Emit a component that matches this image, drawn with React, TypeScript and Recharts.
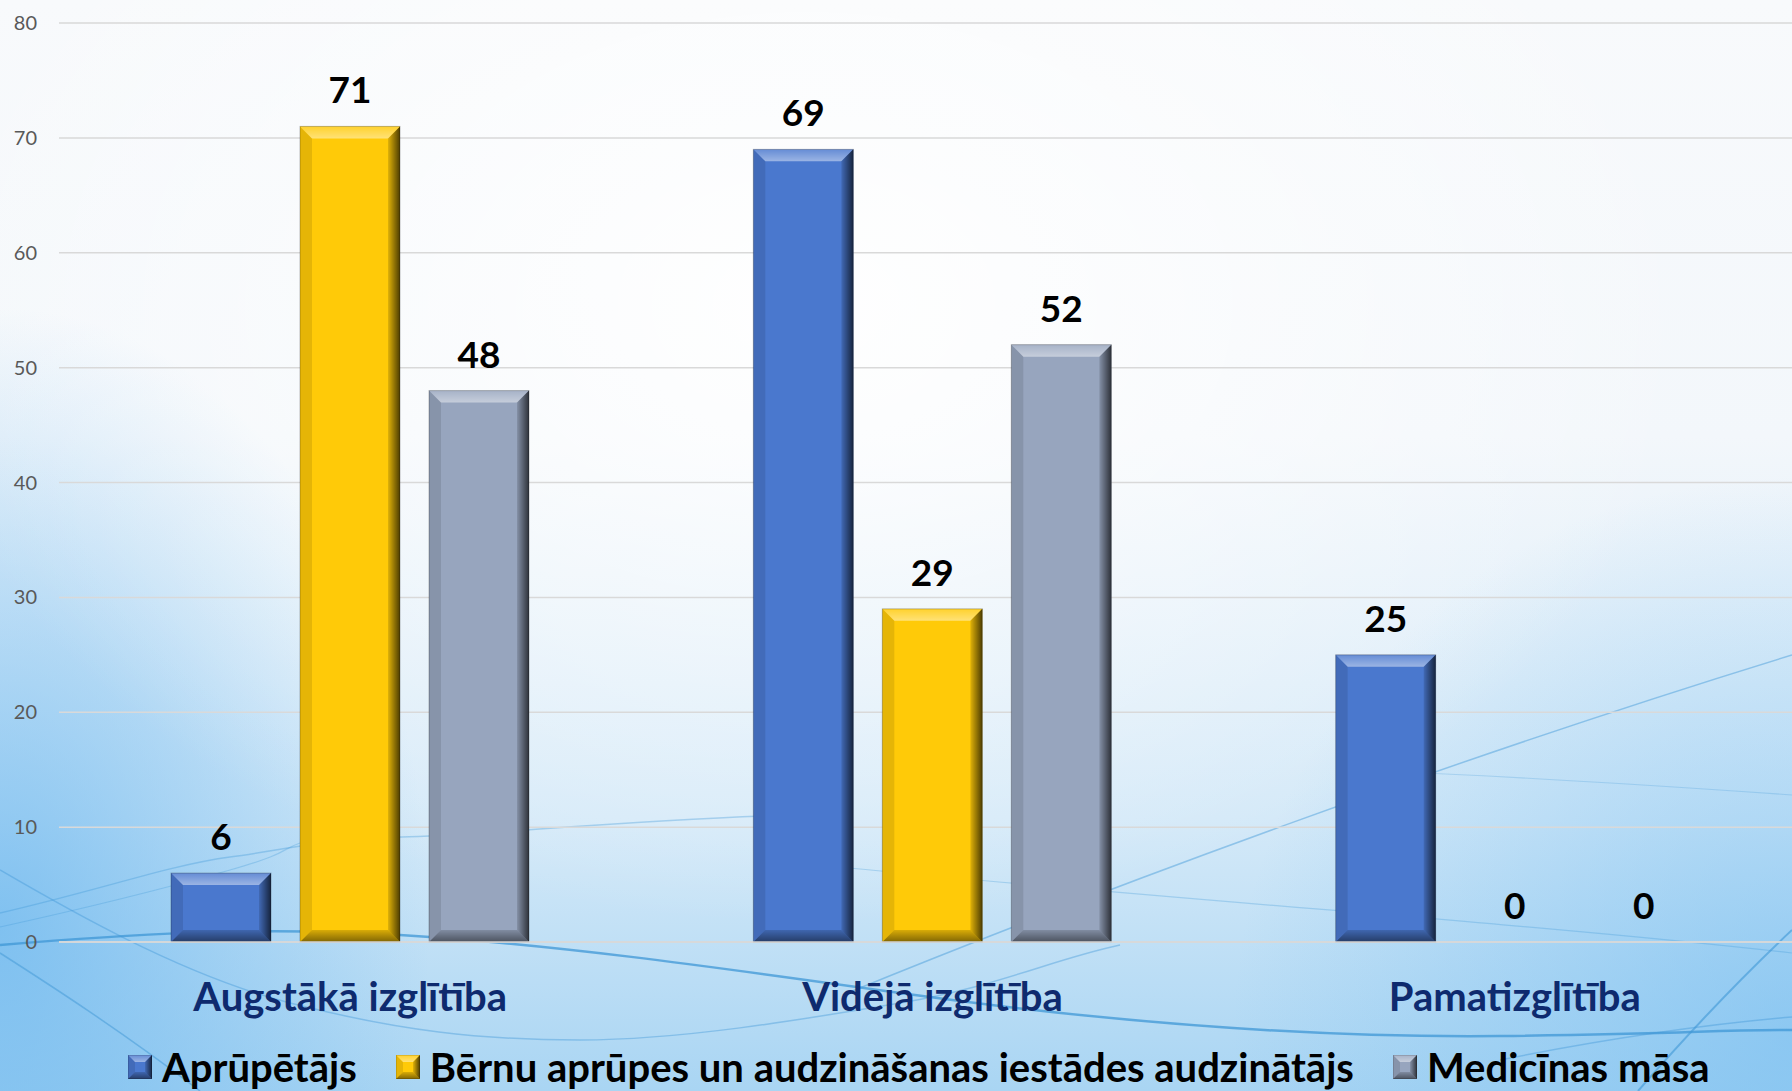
import React from 'react';
import { BarChart, Bar, XAxis, YAxis, CartesianGrid, LabelList, Legend } from 'recharts';

const categories = ['Augstākā izglītība', 'Vidējā izglītība', 'Pamatizglītība'];
const aprupetajs = [6, 69, 25];
const audzinatajs = [71, 29, 0];
const medmasa = [48, 52, 0];
const seriesNames = ['Aprūpētājs', 'Bērnu aprūpes un audzināšanas iestādes audzinātājs', 'Medicīnas māsa'];
const seriesColors = ['#4A78CE', '#FFCA08', '#97A5BE'];
const yTicks = [0, 10, 20, 30, 40, 50, 60, 70, 80];

const data = categories.map((name, i) => ({
  name,
  a: aprupetajs[i],
  b: audzinatajs[i],
  c: medmasa[i],
}));

const FONT = 'Lato, "Open Sans", sans-serif';

// beveled rectangle, same look as the office "bevel" bar effect
const bevel = (x: number, y: number, w: number, h: number, b: number, fill: string, id: string) => (
  <g>
    <defs>
      <linearGradient id={`${id}-r`} x1="0" y1="0" x2="1" y2="0">
        <stop offset="0%" stopColor="#000" stopOpacity={0.12} />
        <stop offset="100%" stopColor="#000" stopOpacity={0.7} />
      </linearGradient>
      <linearGradient id={`${id}-t`} x1="0" y1="0" x2="0" y2="1">
        <stop offset="0%" stopColor="#fff" stopOpacity={0.15} />
        <stop offset="100%" stopColor="#fff" stopOpacity={0.45} />
      </linearGradient>
      <linearGradient id={`${id}-b`} x1="0" y1="0" x2="0" y2="1">
        <stop offset="0%" stopColor="#000" stopOpacity={0.15} />
        <stop offset="100%" stopColor="#000" stopOpacity={0.5} />
      </linearGradient>
    </defs>
    <rect x={x} y={y} width={w} height={h} fill={fill} />
    <polygon points={`${x},${y} ${x + b},${y + b} ${x + b},${y + h - b} ${x},${y + h}`} fill="#000" fillOpacity={0.1} />
    <polygon points={`${x},${y} ${x + w},${y} ${x + w - b},${y + b} ${x + b},${y + b}`} fill={`url(#${id}-t)`} />
    <polygon points={`${x + w},${y} ${x + w},${y + h} ${x + w - b},${y + h - b} ${x + w - b},${y + b}`} fill={`url(#${id}-r)`} />
    <polygon points={`${x},${y + h} ${x + w},${y + h} ${x + w - b},${y + h - b} ${x + b},${y + h - b}`} fill={`url(#${id}-b)`} />
    <rect x={x} y={y} width={w} height={h} fill="none" stroke="#000" strokeOpacity={0.25} strokeWidth={1} />
  </g>
);

const BevelBar = (props: any) => {
  const { x, y, width, height, fill, index, dataKey } = props;
  if (!height || height <= 0) return null;
  const b = Math.min(12, height / 2);
  return bevel(x, y, width, height, b, fill, `bv-${dataKey}-${index}`);
};

const CategoryTick = ({ x, y, payload }: any) => (
  <text x={x} y={y + 61} textAnchor="middle" fontFamily={FONT} fontSize={40} fontWeight={700} fill="#0E2A6E">
    {payload.value}
  </text>
);

const LegendContent = () => (
  <div style={{ display: 'flex', alignItems: 'center', paddingLeft: 128, height: 48, boxSizing: 'border-box', fontFamily: FONT, fontWeight: 700, fontSize: 40, color: '#000', whiteSpace: 'nowrap' }}>
    {seriesNames.map((n, i) => (
      <div key={n} style={{ display: 'flex', alignItems: 'center', marginRight: 39 }}>
        <svg width={24} height={24} style={{ marginRight: 10 }}>
          {bevel(0, 0, 24, 24, 7, seriesColors[i], `lg-${i}`)}
        </svg>
        <span>{n}</span>
      </div>
    ))}
  </div>
);

const bg = [
  'radial-gradient(ellipse 900px 620px at 45% 28%, rgba(255,255,255,0.95), rgba(255,255,255,0) 100%)',
  'radial-gradient(ellipse 430px 620px at 0% 85%, rgba(105,182,238,0.75), rgba(105,182,238,0) 100%)',
  'radial-gradient(ellipse 560px 560px at 100% 95%, rgba(115,188,240,0.6), rgba(115,188,240,0) 100%)',
  'linear-gradient(to bottom, #F8FAFC 0%, #F3F7FB 40%, #D4E9F8 75%, #A9D5F3 100%)',
].join(', ');

const Curves = () => (
  <svg width={1792} height={1091} style={{ position: 'absolute', left: 0, top: 0 }}>
    <g fill="none" stroke="#3F97D6">
      <path d="M0,945 C120,935 250,926 400,935 S700,965 900,993 S1300,1038 1500,1036 S1700,1030 1792,1030" strokeWidth={2.5} strokeOpacity={0.75} />
      <path d="M0,870 C60,905 180,975 290,1003 S480,1040 580,1040 S800,1020 900,1003 S1050,960 1120,945" strokeWidth={1.5} strokeOpacity={0.4} />
      <path d="M0,953 C50,985 120,1030 200,1091" strokeWidth={1.5} strokeOpacity={0.5} />
      <path d="M0,913 C100,890 170,865 230,857 S330,838 402,837 S650,818 800,815" strokeWidth={1.5} strokeOpacity={0.35} />
      <path d="M0,927 C100,905 170,887 230,870 S280,850 300,843" strokeWidth={1.2} strokeOpacity={0.3} />
      <path d="M850,992 C1100,890 1450,760 1792,655" strokeWidth={1.5} strokeOpacity={0.45} />
      <path d="M770,860 C1100,895 1500,920 1792,953" strokeWidth={1.2} strokeOpacity={0.3} />
      <path d="M1380,771 C1500,776 1650,785 1792,795" strokeWidth={1.2} strokeOpacity={0.25} />
      <path d="M1792,930 C1760,960 1700,1020 1638,1091" strokeWidth={2} strokeOpacity={0.6} />
      <path d="M1500,1060 C1600,1040 1700,1025 1792,1017" strokeWidth={1.5} strokeOpacity={0.4} />
    </g>
  </svg>
);

export default function App() {
  return (
    <div style={{ position: 'absolute', left: 0, top: 0, width: 1792, height: 1091, overflow: 'hidden', background: bg }}>
      <Curves />
      <div style={{ position: 'absolute', left: 0, top: 0 }}>
        <BarChart width={1806} height={1091} data={data} margin={{ top: 23, right: 0, left: 0, bottom: 0 }} barSize={100} barGap={29}>
          <CartesianGrid vertical={false} stroke="#D9D9D9" strokeWidth={1.5} />
          <XAxis dataKey="name" axisLine={{ stroke: '#D9D9D9', strokeWidth: 1.5 }} tickLine={false} tick={<CategoryTick />} height={101} interval={0} />
          <YAxis
            domain={[0, 80]}
            ticks={yTicks}
            width={59}
            axisLine={false}
            tickLine={false}
            tickMargin={16}
            tick={{ fontSize: 20, fill: '#595959', fontFamily: FONT }}
          />
          <Legend verticalAlign="bottom" align="left" content={<LegendContent />} wrapperStyle={{ left: 0, width: 1792, height: 48 }} />
          <Bar dataKey="a" name={seriesNames[0]} fill={seriesColors[0]} shape={<BevelBar />} isAnimationActive={false}>
            <LabelList dataKey="a" position="top" offset={23} fill="#000" fontSize={37} fontWeight={700} fontFamily={FONT} />
          </Bar>
          <Bar dataKey="b" name={seriesNames[1]} fill={seriesColors[1]} shape={<BevelBar />} isAnimationActive={false}>
            <LabelList dataKey="b" position="top" offset={23} fill="#000" fontSize={37} fontWeight={700} fontFamily={FONT} />
          </Bar>
          <Bar dataKey="c" name={seriesNames[2]} fill={seriesColors[2]} shape={<BevelBar />} isAnimationActive={false}>
            <LabelList dataKey="c" position="top" offset={23} fill="#000" fontSize={37} fontWeight={700} fontFamily={FONT} />
          </Bar>
        </BarChart>
      </div>
    </div>
  );
}
